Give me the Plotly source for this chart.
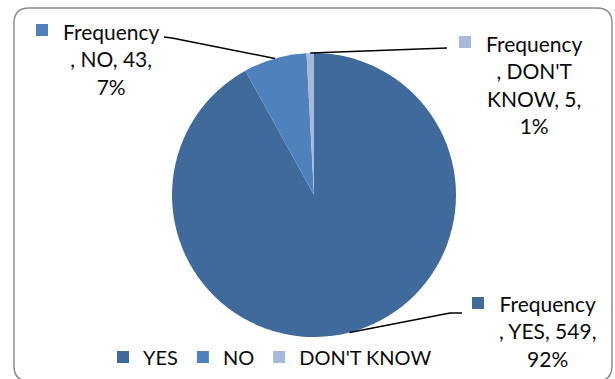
import math
import plotly.graph_objects as go

# ---- data ----
categories = ["YES", "NO", "DON'T KNOW"]
frequencies = [549, 43, 5]
percent_labels = ["92%", "7%", "1%"]
series_name = "Frequency"

# ---- style ----
colors = ["#416A9C", "#4F81BD", "#A7B9D9"]
W, H = 615, 379
FONT = "Lato, 'Noto Sans', sans-serif"

def px(x):
    return x / W

def py(y):
    return 1 - y / H

# pie geometry (pixels)
cx, cy, r = 314, 195, 142

fig = go.Figure()
fig.add_trace(go.Pie(
    labels=categories,
    values=frequencies,
    sort=False,
    direction="clockwise",
    rotation=0,
    textinfo="none",
    hoverinfo="label+value+percent",
    marker=dict(colors=colors, line=dict(width=0)),
    domain=dict(x=[px(cx - r), px(cx + r)], y=[py(cy + r), py(cy - r)]),
    showlegend=True,
))

# label block layout: text center, legend-key square center, elbow points of leader line
label_layout = {
    "YES": dict(tx=547, ty=331, sx=478, sy=303, elbow=[(462, 313), (450, 313)]),
    "NO": dict(tx=111, ty=59, sx=42, sy=30, elbow=[(164, 37), (172, 38)]),
    "DON'T KNOW": dict(tx=534, ty=84, sx=465, sy=42, elbow=[(447, 48)]),
}
label_lines = {
    "YES": [series_name, ", YES, {v},", "{p}"],
    "NO": [series_name, ", NO, {v},", "{p}"],
    "DON'T KNOW": [series_name, ", DON'T", "KNOW, {v},", "{p}"],
}

total = sum(frequencies)
cum = 0
shapes = []
annotations = []
for cat, val, pct, col in zip(categories, frequencies, percent_labels, colors):
    mid = (cum + val / 2) / total
    cum += val
    ang = mid * 2 * math.pi
    ex = cx + r * math.sin(ang)
    ey = cy - r * math.cos(ang)
    lay = label_layout[cat]
    pts = lay["elbow"] + [(ex, ey)]
    path = "M " + " L ".join(f"{px(a):.5f},{py(b):.5f}" for a, b in pts)
    shapes.append(dict(type="path", xref="paper", yref="paper", path=path,
                       line=dict(color="#000000", width=1.5)))
    s = 6
    shapes.append(dict(type="rect", xref="paper", yref="paper",
                       x0=px(lay["sx"] - s), x1=px(lay["sx"] + s),
                       y0=py(lay["sy"] + s), y1=py(lay["sy"] - s),
                       fillcolor=col, line=dict(width=0)))
    text = "<br>".join(t.format(v=val, p=pct) for t in label_lines[cat])
    annotations.append(dict(xref="paper", yref="paper", x=px(lay["tx"]), y=py(lay["ty"]),
                            xanchor="center", yanchor="middle", align="center",
                            showarrow=False, text=text,
                            font=dict(family=FONT, size=21, color="#0a0a0a")))

# rounded frame
x0, y0, x1, y1, rad = 14, 8, 612, 381, 15
fx = lambda v: px(v)
fy = lambda v: py(v)
frame = (f"M {fx(x0+rad)},{fy(y0)} L {fx(x1-rad)},{fy(y0)} Q {fx(x1)},{fy(y0)} {fx(x1)},{fy(y0+rad)} "
         f"L {fx(x1)},{fy(y1-rad)} Q {fx(x1)},{fy(y1)} {fx(x1-rad)},{fy(y1)} "
         f"L {fx(x0+rad)},{fy(y1)} Q {fx(x0)},{fy(y1)} {fx(x0)},{fy(y1-rad)} "
         f"L {fx(x0)},{fy(y0+rad)} Q {fx(x0)},{fy(y0)} {fx(x0+rad)},{fy(y0)} Z")
shapes.insert(0, dict(type="path", xref="paper", yref="paper", path=frame,
                      line=dict(color="#8C8C8C", width=1.5), layer="below"))

fig.update_layout(
    width=W, height=H,
    margin=dict(l=0, r=0, t=0, b=0),
    paper_bgcolor="white",
    plot_bgcolor="white",
    font=dict(family=FONT, size=20, color="#0a0a0a"),
    shapes=shapes,
    annotations=annotations,
    legend=dict(orientation="h", x=px(270), xanchor="center", y=py(357), yanchor="middle",
                font=dict(family=FONT, size=20, color="#0a0a0a"),
                bgcolor="rgba(0,0,0,0)", itemwidth=30, tracegroupgap=0),
)

fig.write_html("out.html", config={"displayModeBar": False},
               post_script="document.body.style.margin='0';document.body.style.overflow='hidden';")
